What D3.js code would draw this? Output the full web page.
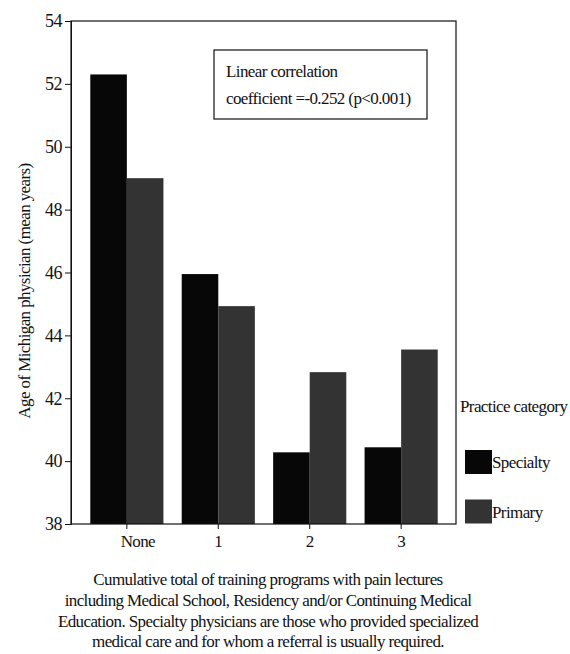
<!DOCTYPE html>
<html>
<head>
<meta charset="utf-8">
<script src="https://cdn.jsdelivr.net/npm/d3@7"></script>
<style>
  html, body { margin: 0; padding: 0; background: #fff; }
  .ser { font-family: 'Liberation Serif', serif; }
</style>
</head>
<body>
<svg id="chart" width="570" height="654"></svg>
<script>
// ---- data ----
const categories = ["None", "1", "2", "3"];
const seriesNames = ["Specialty", "Primary"];
const specialtyValues = [52.3, 45.95, 40.28, 40.44];
const primaryValues = [49.0, 44.93, 42.83, 43.55];
const yTickValues = [38, 40, 42, 44, 46, 48, 50, 52, 54];
const yTitle = "Age of Michigan physician (mean years)";
const legendTitle = "Practice category";
const noteLines = ["Linear correlation", "coefficient =-0.252 (p<0.001)"];
const captionLines = [
  "Cumulative total of training programs with pain lectures",
  "including Medical School, Residency and/or Continuing Medical",
  "Education.  Specialty physicians are those who provided specialized",
  "medical care and for whom a referral is usually required."
];

const seriesValues = [specialtyValues, primaryValues];
const colors = ["#070707", "#333333"];
const FONT = "'Liberation Serif', serif";
const ink = "#111";

const svg = d3.select("#chart");
const pLeft = 71, pRight = 456, pTop = 21, pBottom = 524;

const y = d3.scaleLinear().domain([38, 54]).range([pBottom, pTop]);
const x = d3.scaleBand().domain(categories).range([pLeft + 1, pRight]).paddingInner(0.2).paddingOuter(0.2);
const xs = d3.scaleBand().domain(seriesNames).range([0, x.bandwidth()]).padding(0);

function styleText(sel, size, ls) {
  return sel.attr("class", "ser")
    .attr("font-family", "Liberation Serif")
    .style("font-family", FONT)
    .attr("font-size", size)
    .style("letter-spacing", (ls || 0) + "px")
    .attr("fill", ink);
}

// bars
const groups = svg.append("g").selectAll("g")
  .data(categories)
  .join("g")
  .attr("transform", d => `translate(${x(d)},0)`);

groups.selectAll("rect")
  .data((d, i) => seriesNames.map((s, j) => ({ s, v: seriesValues[j][i], j })))
  .join("rect")
  .attr("x", d => xs(d.s))
  .attr("width", xs.bandwidth())
  .attr("y", d => y(d.v))
  .attr("height", d => y(38) - y(d.v))
  .attr("fill", d => colors[d.j]);

// frame
svg.append("rect")
  .attr("x", pLeft).attr("y", pTop)
  .attr("width", pRight - pLeft).attr("height", pBottom - pTop)
  .attr("fill", "none").attr("stroke", ink).attr("stroke-width", 1.2);

// y axis
const yAxis = svg.append("g")
  .attr("transform", `translate(${pLeft},0)`)
  .call(d3.axisLeft(y).tickValues(yTickValues).tickSize(6).tickPadding(3).tickFormat(d3.format("d")));
yAxis.attr("font-family", null);
yAxis.select(".domain").attr("stroke", ink);
yAxis.selectAll("line").attr("stroke", ink);
styleText(yAxis.selectAll("text"), 18, -0.5);

// x axis
const xAxis = svg.append("g")
  .attr("transform", `translate(0,${pBottom})`)
  .call(d3.axisBottom(x).tickSize(5).tickPadding(6));
xAxis.attr("font-family", null);
xAxis.select(".domain").remove();
xAxis.selectAll("line").attr("stroke", ink);
styleText(xAxis.selectAll("text"), 17, -0.6)
  .attr("dx", d => d === "None" ? 11 : 0);

// y title
styleText(svg.append("text"), 17, -0.6)
  .attr("transform", "translate(30,291) rotate(-90)")
  .attr("text-anchor", "middle")
  .text(yTitle);

// note box
svg.append("rect")
  .attr("x", 214).attr("y", 50).attr("width", 213).attr("height", 69)
  .attr("fill", "#fff").attr("stroke", ink).attr("stroke-width", 1.2);
styleText(svg.append("g").selectAll("text").data(noteLines).join("text"), 17, -0.6)
  .attr("x", 226).attr("y", (d, i) => 77 + i * 27)
  .text(d => d);

// legend
styleText(svg.append("text"), 17, -0.6)
  .attr("x", 460).attr("y", 412).text(legendTitle);
const leg = svg.append("g").selectAll("g")
  .data(seriesNames).join("g")
  .attr("transform", (d, i) => `translate(465,${450 + i * 49.5})`);
leg.append("rect").attr("width", 27).attr("height", 24)
  .attr("fill", (d, i) => colors[i]);
styleText(leg.append("text"), 17, -0.6)
  .attr("x", 27).attr("y", 18).text(d => d);

// caption
styleText(svg.append("g").selectAll("text").data(captionLines).join("text"), 17, -0.6)
  .attr("x", 268).attr("y", (d, i) => 585 + i * 20.8)
  .attr("text-anchor", "middle")
  .text(d => d);
</script>
</body>
</html>
